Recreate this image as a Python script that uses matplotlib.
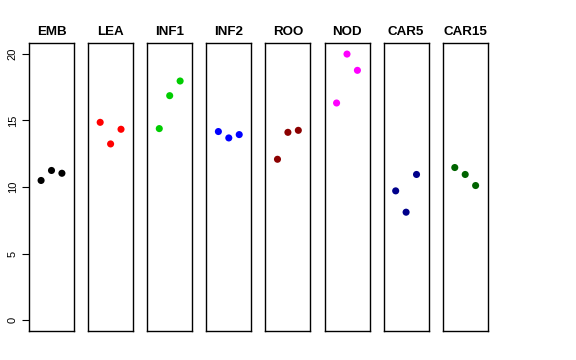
import matplotlib
matplotlib.use("Agg")
import matplotlib.pyplot as plt

plt.rcParams['font.family'] = ['Liberation Sans', 'DejaVu Sans']

groups = ["EMB", "LEA", "INF1", "INF2", "ROO", "NOD", "CAR5", "CAR15"]
colors = ["#000000", "#FF0000", "#00CD00", "#0000FF", "#8B0000", "#FF00FF", "#00008B", "#006400"]
values = [
    [10.49, 11.24, 11.03],
    [14.85, 13.23, 14.33],
    [14.38, 16.85, 17.95],
    [14.16, 13.68, 13.93],
    [12.08, 14.10, 14.25],
    [16.30, 19.97, 18.75],
    [9.71, 8.11, 10.94],
    [11.46, 10.94, 10.11],
]
reps = [1, 2, 3]
yticks = [0, 5, 10, 15, 20]

W, H = 576, 360
fig = plt.figure(figsize=(W / 100, H / 100), dpi=100)

left0 = 29
pw = 45
pitch = 59.1
top = 43
bottom = 331
for i, (g, c, v) in enumerate(zip(groups, colors, values)):
    x0 = left0 + i * pitch
    ax = fig.add_axes([x0 / W, 1 - bottom / H, pw / W, (bottom - top) / H])
    ax.scatter(reps, v, color=c, s=26, edgecolors='none', zorder=3)
    ax.set_xlim(-0.16, 4.16)
    ax.set_ylim(-0.8, 20.8)
    ax.set_xticks([])
    for s in ax.spines.values():
        s.set_linewidth(1.0)
        s.set_color('black')
    ax.set_title(g, fontsize=9.6, fontweight='bold', pad=6)
    if i == 0:
        ax.set_yticks(yticks)
        ax.set_yticklabels([str(t) for t in yticks], rotation=90, va='center', fontsize=8)
        ax.tick_params(axis='y', length=5, width=0.8, pad=3)
    else:
        ax.set_yticks([])

fig.savefig("out.png", dpi=100)
